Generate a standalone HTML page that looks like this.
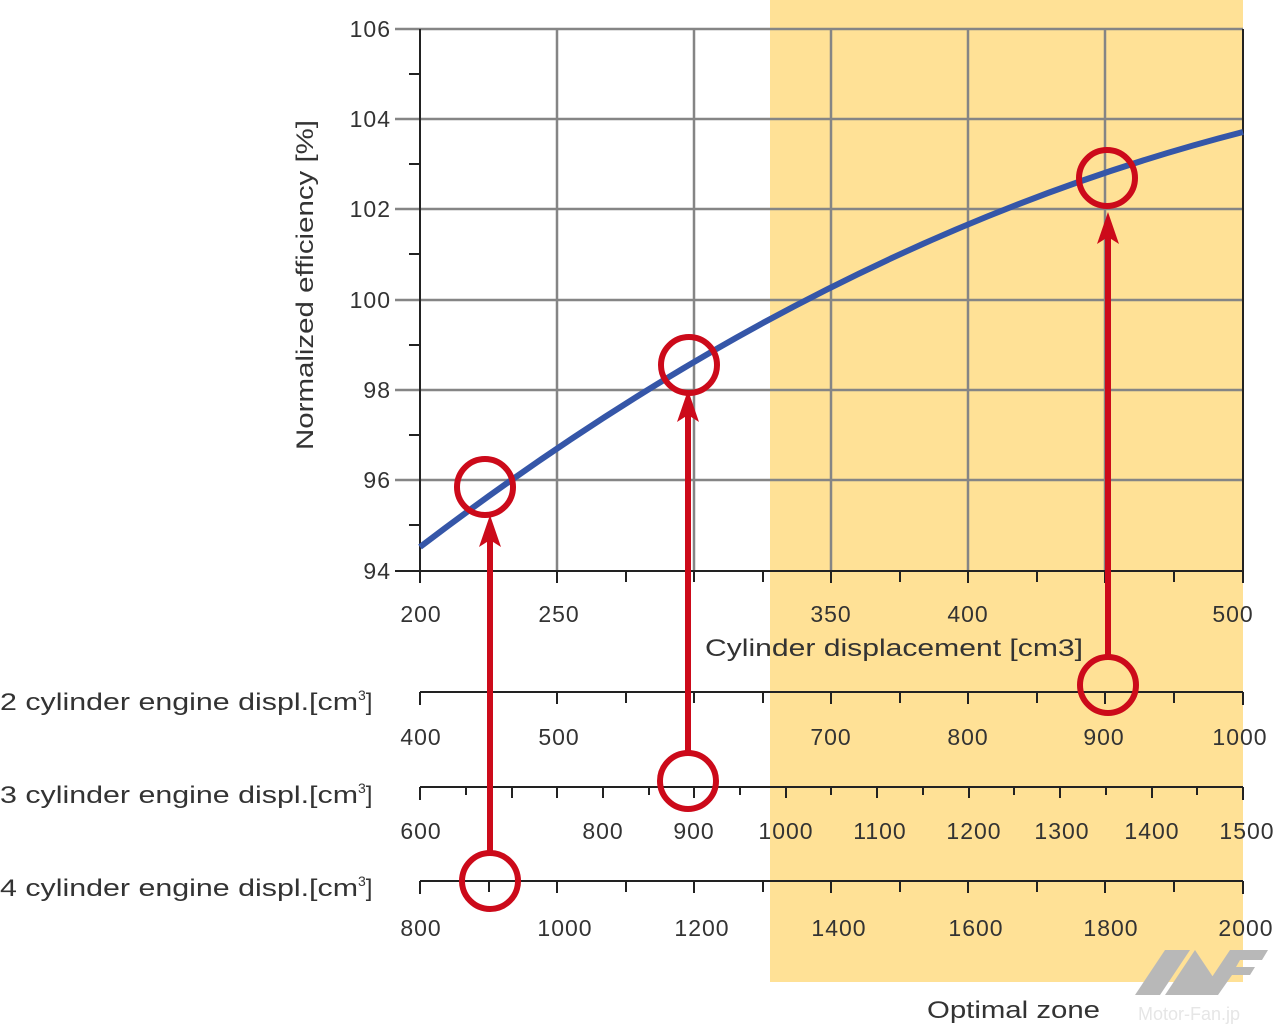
<!DOCTYPE html>
<html><head><meta charset="utf-8"><style>
body{margin:0;background:#fff;width:1279px;height:1030px;overflow:hidden}
svg text{font-family:"Liberation Sans",sans-serif;fill:#333}
</style></head><body>
<svg width="1279" height="1030" viewBox="0 0 1279 1030">
<rect x="770" y="0" width="473" height="982" fill="#FFE196"/>
<g stroke="#858585" stroke-width="2.5">
<line x1="395" y1="29" x2="1243" y2="29"/><line x1="395" y1="119" x2="1243" y2="119"/>
<line x1="395" y1="209" x2="1243" y2="209"/><line x1="395" y1="300" x2="1243" y2="300"/>
<line x1="395" y1="390" x2="1243" y2="390"/><line x1="395" y1="480" x2="1243" y2="480"/>
<line x1="557" y1="29" x2="557" y2="571"/><line x1="694" y1="29" x2="694" y2="571"/>
<line x1="831" y1="29" x2="831" y2="571"/><line x1="968" y1="29" x2="968" y2="571"/>
<line x1="1105" y1="29" x2="1105" y2="571"/>
</g>
<g stroke="#222" stroke-width="2">
<line x1="420" y1="29" x2="420" y2="583"/><line x1="1243" y1="29" x2="1243" y2="583"/>
<line x1="395" y1="571" x2="1243" y2="571"/>
<line x1="409" y1="74" x2="420" y2="74"/><line x1="409" y1="164" x2="420" y2="164"/>
<line x1="409" y1="254" x2="420" y2="254"/><line x1="409" y1="345" x2="420" y2="345"/>
<line x1="409" y1="435" x2="420" y2="435"/><line x1="409" y1="525" x2="420" y2="525"/>
<path d="M489,571v11M557,571v12M626,571v11M694,571v11M763,571v11M831,571v12M900,571v11M968,571v12M1037,571v11M1105,571v12M1174,571v11"/>
<line x1="420" y1="692" x2="1243" y2="692"/>
<path d="M420,692v13M489,692v11M557,692v12M626,692v11M694,692v11M763,692v11M831,692v12M900,692v11M968,692v12M1037,692v11M1105,692v12M1174,692v11M1243,692v13"/>
<line x1="420" y1="787" x2="1243" y2="787"/>
<path d="M420,787v13M466,787v8M512,787v11M557,787v11M603,787v11M649,787v8M694,787v11M740,787v8M786,787v11M831,787v8M877,787v11M923,787v8M969,787v11M1014,787v8M1060,787v11M1106,787v8M1152,787v11M1197,787v8M1243,787v13"/>
<line x1="420" y1="881" x2="1243" y2="881"/>
<path d="M420,881v13M489,881v11M557,881v12M626,881v11M694,881v12M763,881v11M831,881v12M900,881v11M968,881v12M1037,881v11M1105,881v12M1174,881v11M1243,881v13"/>
</g>
<g font-size="23" text-anchor="end" letter-spacing="1">
<text x="391" y="37">106</text><text x="391" y="127">104</text><text x="391" y="217">102</text>
<text x="391" y="308">100</text><text x="391" y="398">98</text><text x="391" y="488">96</text><text x="391" y="579">94</text>
</g>
<text transform="translate(313,285) rotate(-90)" font-size="24" text-anchor="middle" textLength="330" lengthAdjust="spacingAndGlyphs">Normalized efficiency [%]</text>
<g font-size="23" text-anchor="middle" letter-spacing="1">
<text x="421" y="622">200</text><text x="559" y="622">250</text><text x="831" y="622">350</text><text x="968" y="622">400</text><text x="1233" y="622">500</text>
<text x="421" y="745">400</text><text x="559" y="745">500</text><text x="831" y="745">700</text><text x="968" y="745">800</text><text x="1104" y="745">900</text><text x="1240" y="745">1000</text>
<text x="421" y="839">600</text><text x="603" y="839">800</text><text x="694" y="839">900</text><text x="786" y="839">1000</text><text x="880" y="839">1100</text><text x="974" y="839">1200</text><text x="1062" y="839">1300</text><text x="1152" y="839">1400</text><text x="1247" y="839">1500</text>
<text x="421" y="936">800</text><text x="565" y="936">1000</text><text x="702" y="936">1200</text><text x="839" y="936">1400</text><text x="976" y="936">1600</text><text x="1111" y="936">1800</text><text x="1246" y="936">2000</text>
</g>
<text x="705" y="656" font-size="24" textLength="378" lengthAdjust="spacingAndGlyphs">Cylinder displacement [cm3]</text>
<g font-size="24">
<text x="0" y="710"><tspan textLength="358" lengthAdjust="spacingAndGlyphs">2 cylinder engine displ.[cm</tspan><tspan font-size="14" dy="-10">3</tspan><tspan dy="10">]</tspan></text>
<text x="0" y="803"><tspan textLength="358" lengthAdjust="spacingAndGlyphs">3 cylinder engine displ.[cm</tspan><tspan font-size="14" dy="-10">3</tspan><tspan dy="10">]</tspan></text>
<text x="0" y="896"><tspan textLength="358" lengthAdjust="spacingAndGlyphs">4 cylinder engine displ.[cm</tspan><tspan font-size="14" dy="-10">3</tspan><tspan dy="10">]</tspan></text>
</g>
<text x="927" y="1018" font-size="24" textLength="173" lengthAdjust="spacingAndGlyphs">Optimal zone</text>
<path d="M420,547 C600,410 880,225 1243,132" fill="none" stroke="#3556a8" stroke-width="6"/>
<g stroke="#cc0a1a" stroke-width="6" fill="none">
<circle cx="485" cy="487" r="28"/><circle cx="689" cy="365" r="28"/><circle cx="1107" cy="178" r="28"/>
<circle cx="1108" cy="685" r="28"/><circle cx="688" cy="781" r="28"/><circle cx="490" cy="881" r="28"/>
<line x1="490" y1="853" x2="490" y2="535"/><line x1="688" y1="753" x2="688" y2="410"/><line x1="1108" y1="657" x2="1108" y2="235"/>
</g>
<g fill="#cc0a1a">
<path d="M490,515 L479,547 L490,540 L501,547Z"/>
<path d="M688,390 L677,422 L688,415 L699,422Z"/>
<path d="M1108,212 L1097,244 L1108,237 L1119,244Z"/>
</g>
<g fill="#b8b8b8">
<path d="M1135,995 L1165,950 L1190,950 L1160,995Z"/>
<path d="M1165,995 L1195,950 L1215,980 L1205,995Z"/>
<path d="M1200,995 L1230,950 L1268,950 L1262,960 L1240,960 L1236,967 L1255,967 L1250,975 L1232,975 L1218,995Z"/>
</g>
<text x="1138" y="1020" font-size="18" style="fill:#e6e6e6">Motor-Fan.jp</text>
</svg>
</body></html>
